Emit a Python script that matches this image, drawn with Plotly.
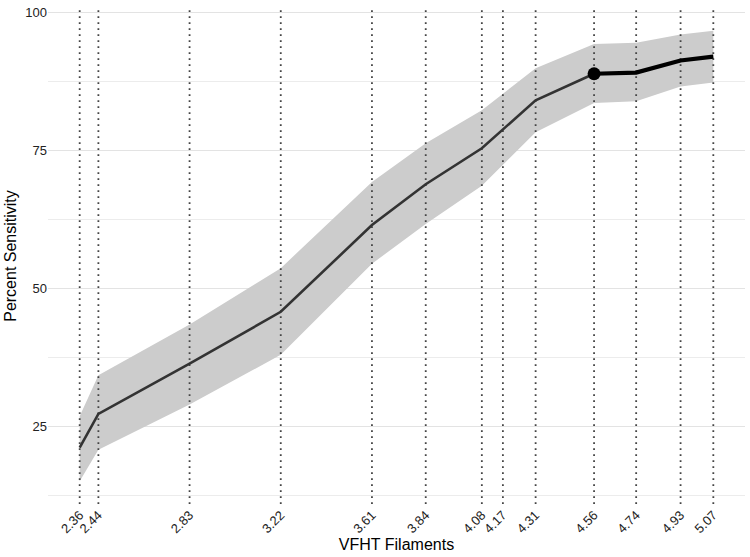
import plotly.graph_objects as go

filaments = [2.36, 2.44, 2.83, 3.22, 3.61, 3.84, 4.08, 4.31, 4.56, 4.74, 4.93, 5.07]
sensitivity = [21.2, 27.3, 36.4, 45.8, 61.5, 68.9, 75.4, 84.1, 88.9, 89.1, 91.3, 92.0]
upper = [26.9, 34.3, 43.5, 53.7, 69.3, 76.3, 82.3, 89.9, 94.3, 94.5, 96.0, 96.7]
lower = [15.1, 20.8, 29.0, 38.0, 54.5, 61.7, 68.6, 78.3, 83.6, 83.9, 86.6, 87.3]
tick_filaments = [2.36, 2.44, 2.83, 3.22, 3.61, 3.84, 4.08, 4.17, 4.31, 4.56, 4.74, 4.93, 5.07]
highlight_start = 4.56
y_range = [11.0, 100.8]
x_range = [2.2245, 5.2055]

fig = go.Figure()

# confidence ribbon
fig.add_trace(go.Scatter(
    x=filaments + filaments[::-1],
    y=upper + lower[::-1],
    fill="toself", fillcolor="rgb(204,204,204)",
    line=dict(width=0), mode="lines", hoverinfo="skip", showlegend=False))

# dotted reference lines at each filament
vx, vy = [], []
for v in tick_filaments:
    vx += [v, v, None]
    vy += [y_range[0], y_range[1], None]
fig.add_trace(go.Scatter(
    x=vx, y=vy, mode="lines", hoverinfo="skip", showlegend=False,
    line=dict(color="#444444", width=1.8, dash="1.8px,4.2px")))

idx = filaments.index(highlight_start)
fig.add_trace(go.Scatter(
    x=filaments[:idx + 1], y=sensitivity[:idx + 1], mode="lines",
    line=dict(color="#333333", width=2.6), showlegend=False))
fig.add_trace(go.Scatter(
    x=filaments[idx:], y=sensitivity[idx:], mode="lines",
    line=dict(color="#000000", width=4.2), showlegend=False))
fig.add_trace(go.Scatter(
    x=[filaments[idx]], y=[sensitivity[idx]], mode="markers",
    marker=dict(color="#000000", size=13, line=dict(width=0)), showlegend=False))

fig.update_layout(
    width=750, height=557,
    margin=dict(l=48, r=5, t=5, b=53),
    plot_bgcolor="white", paper_bgcolor="white",
    font=dict(family="Liberation Sans, Arial, sans-serif", color="#000000"),
    xaxis=dict(
        range=x_range, tickmode="array", tickvals=tick_filaments,
        ticktext=[f"{v:.2f}" for v in tick_filaments], tickangle=-45,
        showgrid=False, zeroline=False, showline=False, ticks="",
        tickfont=dict(size=13, color="#222222"),
        title=dict(text="VFHT Filaments", font=dict(size=16), standoff=2),
    ),
    yaxis=dict(
        range=y_range, tickmode="array", tickvals=[25, 50, 75, 100],
        showgrid=True, gridcolor="#e3e3e3", gridwidth=1.1,
        minor=dict(tickvals=[12.5, 37.5, 62.5, 87.5], showgrid=True,
                   gridcolor="#ececec", gridwidth=0.8),
        zeroline=False, showline=False, ticks="",
        tickfont=dict(size=13, color="#222222"),
        title=dict(text="Percent Sensitivity", font=dict(size=16), standoff=4),
    ),
)

fig.write_html("out.html")
